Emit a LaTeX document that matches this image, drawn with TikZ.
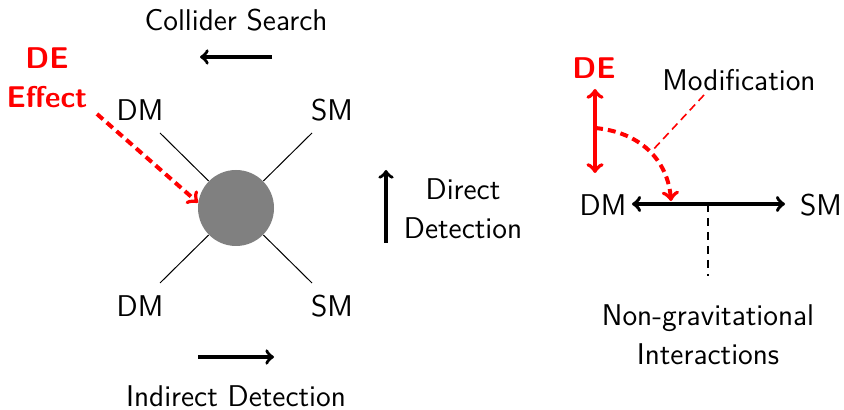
\documentclass[tikz,border=0pt]{standalone}
\usepackage{fontspec}
\begin{document}
\begin{tikzpicture}[x=0.5pt,y=-0.5pt,
  lbl/.style={font=\fontsize{15}{19.5}\selectfont\sffamily, align=center, inner sep=0pt},
  redlbl/.style={font=\fontsize{15}{19.5}\selectfont\sffamily\bfseries, text=red, align=center, inner sep=0pt},
  blackarr/.style={->, line width=1.7pt},
  leg/.style={line width=0.5pt},
  reddash/.style={red, line width=2pt, dash pattern=on 4pt off 2.5pt, ->}
]
\useasboundingbox (0,0) rectangle (844,410);

% ---- left diagram ----
\node[lbl] (cs) at (236,20) {Collider Search};
\coordinate (csA) at (272,57);
\coordinate (csB) at (200,57);
\draw[blackarr] (csA) -- (csB);

\node[redlbl] (de) at (47,78) {DE\\Effect};

\node[lbl] (dmTL) at (140,110) {DM};
\node[lbl] (smTR) at (332,110) {SM};
\node[lbl] (dmBL) at (140,306) {DM};
\node[lbl] (smBR) at (332,306) {SM};

\coordinate (tl) at (160,133);
\coordinate (tr) at (312,133);
\coordinate (bl) at (160,283);
\coordinate (br) at (312,283);

\node[circle, fill=black!50, minimum size=38pt, inner sep=0pt] (blob) at (236,208) {};
\draw[leg] (tl) -- (blob);
\draw[leg] (tr) -- (blob);
\draw[leg] (bl) -- (blob);
\draw[leg] (br) -- (blob);

\coordinate (deS) at (97,114);
\draw[reddash] (deS) -- (blob.172);

\coordinate (ddA) at (386,243);
\coordinate (ddB) at (386,170);
\draw[blackarr] (ddA) -- (ddB);
\node[lbl] (dd) at (463,209) {Direct\\Detection};

\coordinate (idA) at (198,357);
\coordinate (idB) at (274,357);
\draw[blackarr] (idA) -- (idB);
\node[lbl] (id) at (236,396) {Indirect Detection};

% ---- right diagram ----
\node[redlbl] (de2) at (594,68) {DE};
\coordinate (dvT) at (595,89);
\coordinate (dvB) at (595,173);
\draw[red, line width=2pt, <->] (dvT) -- (dvB);

\coordinate (cS) at (595,128);
\coordinate (cE) at (671,201);
\draw[reddash] (cS) .. controls (640,132) and (668,160) .. (cE);

\node[lbl] (mod) at (739,80) {Modification};
\coordinate (modA) at (704,95);
\coordinate (modB) at (651,152);
\draw[red, line width=0.8pt, dash pattern=on 4pt off 2.5pt] (modA) -- (modB);

\node[lbl] (dm2) at (603,205) {DM};
\node[lbl] (sm2) at (821,205) {SM};
\coordinate (hL) at (632,204);
\coordinate (hR) at (785,204);
\draw[line width=1.8pt, <->] (hL) -- (hR);

\coordinate (mid) at (708,204);
\coordinate (ngTop) at (708,276);
\draw[line width=0.8pt, dash pattern=on 4pt off 3pt] (mid) -- (ngTop);

\node[lbl] (ng) at (708,335) {Non-gravitational\\Interactions};
\end{tikzpicture}
\end{document}
